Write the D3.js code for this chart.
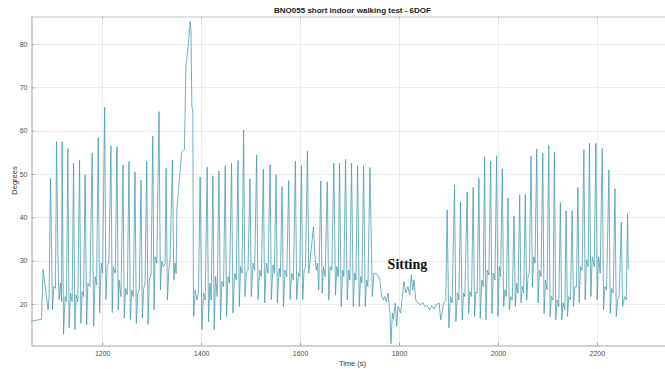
<!DOCTYPE html>
<html>
<head>
<meta charset="utf-8">
<script src="https://cdn.jsdelivr.net/npm/d3@7"></script>
<style>
  body { margin: 0; background: #fff; }
  svg { display: block; }
</style>
</head>
<body>
<svg id="chart" width="665" height="369"></svg>
<script>
// Axis ticks
const xTicks = [1200, 1400, 1600, 1800, 2000, 2200];
const yTicks = [20, 30, 40, 50, 60, 70, 80];

// Orientation angle samples [time (s), degrees], split by activity phase
const startIdle = [[1055.5,16.0],[1062,16.1],[1070,16.3],[1077.2,16.4]];

const walk1 = [
  [1080.4,28.0],[1083.9,24.8],[1090.5,18.6],[1092.6,21.7],[1095.4,49.0],
  [1099.5,18.6],[1102.1,24.0],[1105.5,23.6],[1107.6,57.5],
  [1110.2,32.5],[1112.8,21.0],[1115.7,24.8],[1117.7,20.5],[1118.9,57.5],
  [1121.8,13.0],[1125.0,21.7],[1127.8,20.5],[1130.5,55.9],
  [1133.1,14.4],[1135.9,22.5],[1139.2,20.5],[1142.0,52.5],
  [1144.7,14.0],[1147.3,22.1],[1150.7,20.5],[1154.2,53.2],
  [1156.8,15.5],[1159.5,22.8],[1162.3,21.7],[1165.5,49.8],
  [1168.4,15.2],[1171.0,24.8],[1175.1,24.0],[1179.7,54.9],
  [1182.6,14.8],[1185.8,26.3],[1188.6,24.4],[1191.9,58.4],
  [1194.7,17.9],[1198.0,29.4],[1200.8,27.1],[1204.9,65.4],
  [1207.5,21.0],[1210.1,28.6],[1213.6,29.8],[1217.6,56.5],
  [1220.3,18.0],[1222.3,28.6],[1226.4,27.1],[1229.8,56.3],
  [1232.4,18.6],[1233.9,25.5],[1237.9,21.7],[1242.0,52.1],
  [1244.6,16.7],[1247.4,23.6],[1250.7,22.1],[1254.1,52.9],
  [1256.8,16.4],[1259.6,23.2],[1262.8,21.7],[1266.3,50.5],
  [1268.9,15.5],[1271.8,22.5],[1275.0,23.2],[1278.4,48.6],
  [1281.1,16.7],[1283.9,23.6],[1286.6,24.8],[1290.0,52.9],
  [1292.6,15.2],[1295.3,25.5],[1298.7,26.7],[1302.2,58.8],
  [1304.8,18.6],[1306.8,30.9],[1310.3,29.4],[1314.9,64.4],
  [1317.6,23.2],[1320.4,29.9],[1323.6,28.6],[1327.1,29.4],[1329.1,51.3],
  [1331.8,20.9],[1334.6,27.9],[1337.2,30.2],[1341.9,53.2],
  [1344.7,25.5],[1347.4,29.4],[1349.5,27.0]
];

const standUp = [
  [1350.8,41.7],[1356.1,49.0],[1361.0,55.2],[1366.2,55.6],[1369.1,74.8],
  [1374.3,80.1],[1377.8,85.2],[1379.3,83.5],[1381.2,65.6],[1383.2,64.5],[1384.5,17.1]
];

const walk2 = [
  [1385.2,17.1],[1387.9,23.2],[1391.4,20.9],[1394.6,22.5],[1398.0,49.3],
  [1401.5,14.0],[1404.7,22.5],[1408.2,20.9],[1412.2,51.6],
  [1414.9,15.9],[1417.7,24.8],[1420.3,20.9],[1423.8,49.6],
  [1426.4,14.0],[1429.1,26.3],[1432.5,21.7],[1435.9,50.7],
  [1439.2,16.3],[1442.0,25.2],[1445.3,24.0],[1448.7,51.9],
  [1451.3,17.1],[1454.2,26.3],[1457.4,24.8],[1461.5,52.5],
  [1464.3,17.9],[1467.6,27.1],[1471.0,25.5],[1474.5,53.1],
  [1477.1,19.4],[1479.7,28.6],[1482.6,27.1],[1485.8,60.2],
  [1488.6,21.7],[1491.3,27.1],[1494.7,27.8],[1498.8,48.9],
  [1501.4,21.7],[1504.9,29.4],[1508.1,27.8],[1512.2,54.4],
  [1515.0,21.0],[1518.2,27.8],[1521.7,26.3],[1525.7,51.1],
  [1528.4,20.2],[1531.8,29.4],[1535.3,27.1],[1539.3,52.1],
  [1542.0,21.0],[1545.4,29.0],[1548.0,27.1],[1551.5,49.8],
  [1554.1,20.2],[1557.6,28.2],[1560.2,26.3],[1563.6,47.1],
  [1566.3,19.4],[1569.7,27.8],[1573.0,26.3],[1577.0,48.5],
  [1579.9,21.0],[1583.1,27.1],[1586.5,25.5],[1590.6,53.0],
  [1593.2,21.0],[1596.7,27.1],[1599.3,26.3],[1602.8,51.9],
  [1605.4,21.0],[1608.2,27.8],[1610.9,28.6],[1614.9,55.3],
  [1617.6,27.1],[1621.0,30.9],[1624.5,34.8],[1627.1,37.8],[1629.7,31.7],
  [1632.6,27.8],[1635.2,29.4],[1637.8,23.2],[1641.9,48.4],
  [1644.7,22.5],[1647.4,28.6],[1650.8,26.3],[1654.9,48.2],
  [1658.1,20.9],[1660.9,28.6],[1664.2,27.8],[1668.2,52.5],
  [1671.7,22.0],[1674.3,28.6],[1677.2,26.3],[1679.8,52.5],
  [1683.2,19.4],[1685.9,27.8],[1688.5,26.3],[1692.0,53.4],
  [1695.4,20.9],[1698.0,27.8],[1700.7,25.5],[1704.1,52.5],
  [1707.6,19.4],[1710.2,27.1],[1712.8,25.5],[1716.3,51.9],
  [1719.7,19.4],[1722.4,26.3],[1725.0,24.8],[1728.4,51.9],
  [1731.9,19.4],[1734.5,25.5],[1737.2,24.0],[1741.2,51.5]
];

const sitting = [
  [1746.1,21.7],[1749.3,27.1],[1756.2,26.8],[1761.5,25.5],[1764.9,21.7],
  [1768.4,20.9],[1771.0,21.7],[1774.5,20.5],[1777.7,22.5],[1781.7,17.9],
  [1783.8,10.8],[1786.6,17.9],[1788.6,16.5],[1792.7,20.2],[1795.3,14.8],
  [1798.0,19.4],[1803.4,17.9],[1806.9,21.7],[1810.1,25.2],[1813.6,22.5],
  [1818.2,24.0],[1821.7,22.0],[1825.1,26.7],[1827.8,23.2],[1830.4,25.5],
  [1833.9,20.9],[1838.5,20.2],[1844.0,19.8],[1848.0,20.4],[1852.0,19.4],
  [1857.6,19.6],[1862.0,18.6],[1866.0,19.6],[1870.9,18.8],[1875.0,19.8],
  [1881.1,20.2],[1884.5,16.3],[1890.0,20.0],[1894.6,21.0]
];

const walk3 = [
  [1897.3,41.7],
  [1900.8,14.4],[1904.1,21.7],[1907.5,20.2],[1912.3,47.5],
  [1915.0,15.9],[1918.3,22.5],[1921.0,20.9],[1924.4,43.6],
  [1927.8,16.3],[1930.5,22.5],[1933.2,21.7],[1937.8,45.9],
  [1940.6,17.8],[1943.3,22.8],[1946.7,21.7],[1950.0,46.9],
  [1952.8,17.1],[1955.5,22.8],[1958.2,22.5],[1961.5,49.0],
  [1964.3,16.7],[1967.6,25.5],[1970.3,24.0],[1973.1,54.0],
  [1975.7,16.3],[1978.4,27.8],[1981.8,26.7],[1985.3,53.0],
  [1987.9,17.8],[1990.6,27.1],[1994.0,25.5],[1997.4,54.2],
  [2000.1,17.1],[2002.8,28.6],[2005.5,26.3],[2008.8,51.2],
  [2011.6,19.4],[2014.3,23.2],[2017.0,21.7],[2020.3,44.5],
  [2023.0,18.6],[2025.7,21.7],[2029.1,20.9],[2032.5,40.3],
  [2035.2,19.4],[2037.9,24.8],[2040.6,22.5],[2044.0,45.2],
  [2046.7,20.2],[2049.4,24.0],[2052.1,22.5],[2055.4,45.3],
  [2058.2,20.9],[2060.9,26.3],[2063.6,27.1],[2067.0,54.2],
  [2069.7,24.0],[2072.4,30.9],[2075.1,29.4],[2078.5,55.8],
  [2081.2,20.2],[2083.9,27.8],[2087.2,26.3],[2090.7,54.8],
  [2093.3,17.8],[2096.0,25.5],[2099.4,23.2],[2102.8,56.6],
  [2105.5,17.1],[2108.2,21.7],[2111.6,20.9],[2114.2,55.0],
  [2117.0,16.3],[2119.7,20.9],[2123.0,19.4],[2126.3,43.4],
  [2129.1,16.3],[2131.8,20.2],[2135.2,18.6],[2137.9,41.5],
  [2140.6,17.1],[2143.3,21.7],[2146.7,20.9],[2150.1,41.5],
  [2152.8,19.4],[2155.5,24.0],[2158.9,24.0],[2161.6,46.9],
  [2164.3,20.2],[2167.0,28.6],[2170.3,27.8],[2173.8,55.6],
  [2176.4,20.9],[2179.1,30.2],[2182.5,28.6],[2185.1,57.1],
  [2187.9,21.7],[2190.6,30.9],[2194.7,28.6],[2198.1,57.1],
  [2200.7,20.9],[2203.5,30.9],[2206.8,27.1],[2210.9,55.9],
  [2213.6,18.6],[2216.3,24.0],[2219.7,23.2],[2224.4,50.9],
  [2227.1,17.8],[2229.8,23.6],[2233.2,22.5],[2236.6,46.6],
  [2239.3,17.1],[2242.0,20.9],[2245.3,21.7],[2249.4,38.9],
  [2252.1,19.4],[2256.2,21.7],[2259.5,20.9],[2262.2,40.8],[2263.5,28.0]
];

const titleText = "BNO055 short indoor walking test - 6DOF";
const xLabel = "Time (s)";
const yLabel = "Degrees";
const note = { text: "Sitting", t: 1777, deg: 28.1 };

// Layout
const box = { left: 31, right: 674, top: 16, bottom: 345 };
const svg = d3.select("#chart");

const x = d3.scaleLinear().domain([1056, 2356]).range([box.left, box.right]);
const y = d3.scaleLinear().domain([10.5, 86.5]).range([box.bottom, box.top]);

const font = "'Liberation Sans', Arial, Helvetica, sans-serif";

svg.append("rect").attr("width", 665).attr("height", 369).attr("fill", "#fff");

// Grid
const grid = svg.append("g").attr("stroke", "#ebebeb").attr("stroke-width", 1);
grid.selectAll("line.gx").data(xTicks).join("line")
  .attr("x1", d => Math.round(x(d)) + 0.5).attr("x2", d => Math.round(x(d)) + 0.5)
  .attr("y1", box.top).attr("y2", box.bottom);
grid.selectAll("line.gy").data(yTicks).join("line")
  .attr("y1", d => Math.round(y(d)) + 0.5).attr("y2", d => Math.round(y(d)) + 0.5)
  .attr("x1", box.left).attr("x2", box.right);

// Signal trace
svg.append("clipPath").attr("id", "plotClip")
  .append("rect").attr("x", box.left).attr("y", box.top)
  .attr("width", box.right - box.left).attr("height", box.bottom - box.top);

const series = [].concat(startIdle, walk1, standUp, walk2, sitting, walk3);
const line = d3.line().x(d => x(d[0])).y(d => y(d[1]));

svg.append("path")
  .datum(series)
  .attr("clip-path", "url(#plotClip)")
  .attr("fill", "none")
  .attr("stroke", "#4398ae")
  .attr("stroke-width", 0.85)
  .attr("stroke-opacity", 0.9)
  .attr("stroke-linejoin", "round")
  .attr("d", line);

// Axes
const axisColor = "#a3a3a3";
const labelColor = "#4d4d4d";
const plain = d3.format("d");

const gx = svg.append("g").attr("transform", `translate(0,${box.bottom + 0.5})`)
  .call(d3.axisBottom(x).tickValues(xTicks).tickFormat(plain).tickSize(-3).tickSizeOuter(0).tickPadding(5.5));
const gy = svg.append("g").attr("transform", `translate(${box.left + 0.5},0)`)
  .call(d3.axisLeft(y).tickValues(yTicks).tickFormat(plain).tickSize(-3).tickSizeOuter(0).tickPadding(4));
const gt = svg.append("g").attr("transform", `translate(0,${box.top + 0.5})`)
  .call(d3.axisTop(x).tickValues(xTicks).tickSize(-3).tickSizeOuter(0).tickFormat(""));

[gx, gy].forEach(g => {
  g.select(".domain").attr("stroke", axisColor);
  g.selectAll(".tick line").attr("stroke", axisColor);
  g.selectAll(".tick text").attr("fill", labelColor)
    .style("font-family", font).style("font-size", "7px");
});
gt.select(".domain").attr("stroke", "#c4c4c4");
gt.selectAll(".tick line").attr("stroke", "#c4c4c4");

// Title and axis labels
svg.append("text")
  .attr("x", (box.left + box.right) / 2).attr("y", 12.5)
  .attr("text-anchor", "middle")
  .style("font-family", font).style("font-size", "8px").style("font-weight", "bold")
  .attr("fill", "#1a1a1a")
  .text(titleText);

svg.append("text")
  .attr("x", (box.left + box.right) / 2).attr("y", 366)
  .attr("text-anchor", "middle")
  .style("font-family", font).style("font-size", "7.5px")
  .attr("fill", "#333")
  .text(xLabel);

svg.append("text")
  .attr("transform", `translate(16.5,${(box.top + box.bottom) / 2}) rotate(-90)`)
  .attr("text-anchor", "middle")
  .style("font-family", font).style("font-size", "7.5px")
  .attr("fill", "#333")
  .text(yLabel);

// Annotation
svg.append("text")
  .attr("x", x(note.t)).attr("y", y(note.deg))
  .style("font-family", "'Liberation Serif', 'Times New Roman', serif")
  .style("font-size", "14px").style("font-weight", "bold")
  .attr("fill", "#111")
  .text(note.text);
</script>
</body>
</html>
